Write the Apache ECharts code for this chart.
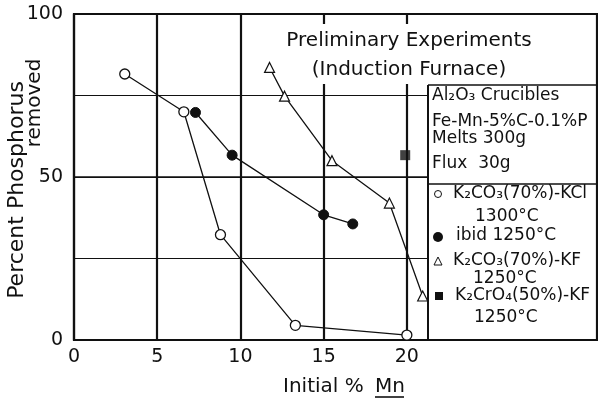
<!DOCTYPE html>
<html>
<head>
<meta charset="utf-8">
<script src="https://cdn.jsdelivr.net/npm/echarts@6/dist/echarts.min.js"></script>
<style>
  html, body { margin: 0; padding: 0; background: #fff; }
  #chart { width: 598px; height: 400px; }
</style>
</head>
<body>
<div id="chart"></div>
<script>
// 数据
var kclOpen = [[3.05, 81.6], [6.6, 70], [8.8, 32.3], [13.3, 4.5], [20.0, 1.5]];   // K2CO3(70%)-KCl 1300°C
var ibidFilled = [[7.3, 69.8], [9.5, 56.7], [15.0, 38.4], [16.75, 35.6]];         // ibid 1250°C
var kfTriangle = [[11.75, 83.6], [12.65, 74.8], [15.5, 55], [18.95, 42], [20.95, 13.5]]; // K2CO3(70%)-KF 1250°C
var cro4Square = [[19.9, 56.7]];                                                   // K2CrO4(50%)-KF 1250°C
var xTicks = [0, 5, 10, 15, 20];
var yTicks = [0, 50, 100];

var FONT = "DejaVu Sans";
var INK = "#111";

var chart = echarts.init(document.getElementById("chart"));

// plain text line, x = left edge, y = vertical centre
function txt(x, y, text, size) {
  return {
    type: "text",
    x: x,
    y: y,
    style: { text: text, fontFamily: FONT, fontSize: size || 17, fill: INK, verticalAlign: "middle" }
  };
}

var option = {
  backgroundColor: "#fff",
  animation: false,
  // title sits on a white patch, grid lines stop under it
  title: {
    text: "Preliminary Experiments\n(Induction Furnace)",
    left: 405,
    top: 24,
    textAlign: "center",
    padding: [2, 4, 0, 4],
    backgroundColor: "#fff",
    textStyle: { fontFamily: FONT, fontSize: 20, fontWeight: "normal", color: INK, lineHeight: 29 }
  },
  grid: { left: 74, right: 170, top: 14, bottom: 60 },
  xAxis: {
    type: "value",
    min: 0,
    max: 21.27,
    interval: 5,
    axisLine: { show: false },
    axisTick: { show: false },
    axisLabel: {
      color: INK,
      fontFamily: FONT,
      fontSize: 19,
      margin: 8,
      formatter: function (v) { return xTicks.indexOf(v) >= 0 ? String(v) : ""; }
    },
    splitLine: {
      show: true,
      // last tick sits on the legend box edge: hide it
      lineStyle: { color: [INK, INK, INK, INK, INK, "rgba(0,0,0,0)"], width: 2.2 }
    }
  },
  yAxis: [
    {
      type: "value",
      min: 0,
      max: 100,
      interval: 25,
      axisLine: { show: false },
      axisTick: { show: false },
      axisLabel: {
        color: INK,
        fontFamily: FONT,
        fontSize: 19,
        margin: 11,
        formatter: function (v) { return yTicks.indexOf(v) >= 0 ? String(v) : ""; }
      },
      splitLine: { show: true, lineStyle: { color: INK, width: 1 } }
    },
    {
      type: "value",
      min: 0,
      max: 100,
      interval: 50,
      position: "left",
      axisLine: { show: false },
      axisTick: { show: false },
      axisLabel: { show: false },
      splitLine: { show: true, lineStyle: { color: INK, width: 1.6 } }
    }
  ],
  series: [
    {
      name: "K2CO3(70%)-KCl 1300°C",
      type: "line",
      data: kclOpen,
      symbol: "circle",
      symbolSize: 10,
      lineStyle: { color: INK, width: 1.3 },
      itemStyle: { color: "#fff", borderColor: INK, borderWidth: 1.3 },
      z: 7
    },
    {
      name: "ibid 1250°C",
      type: "line",
      data: ibidFilled,
      symbol: "circle",
      symbolSize: 10,
      lineStyle: { color: INK, width: 1.3 },
      itemStyle: { color: INK, borderColor: INK, borderWidth: 1 },
      z: 7
    },
    {
      name: "K2CO3(70%)-KF 1250°C",
      type: "line",
      data: kfTriangle,
      symbol: "triangle",
      symbolSize: 10,
      lineStyle: { color: INK, width: 1.3 },
      itemStyle: { color: "#fff", borderColor: INK, borderWidth: 1.2 },
      z: 7
    },
    {
      name: "K2CrO4(50%)-KF 1250°C",
      type: "scatter",
      data: cro4Square,
      symbol: "rect",
      symbolSize: 10,
      itemStyle: { color: INK },
      z: 7
    }
  ],
  graphic: [
    // outer frame
    { type: "rect", shape: { x: 74, y: 14, width: 523, height: 326 }, style: { fill: "none", stroke: INK, lineWidth: 2.2 } },
    // legend box edges
    { type: "line", shape: { x1: 428, y1: 85, x2: 428, y2: 340 }, style: { stroke: INK, lineWidth: 2 } },
    { type: "line", shape: { x1: 428, y1: 85, x2: 597, y2: 85 }, style: { stroke: INK, lineWidth: 1.6 } },
    { type: "line", shape: { x1: 428, y1: 184, x2: 597, y2: 184 }, style: { stroke: INK, lineWidth: 1.6 } },
    // conditions
    txt(432, 96, "Al₂O₃ Crucibles"),
    txt(432, 122, "Fe-Mn-5%C-0.1%P"),
    txt(432, 139, "Melts 300g"),
    txt(432, 164, "Flux  30g"),
    // legend entries
    { type: "circle", shape: { cx: 438, cy: 194, r: 3.5 }, style: { fill: "#fff", stroke: INK, lineWidth: 1 } },
    txt(453, 194, "K₂CO₃(70%)-KCl"),
    txt(475, 217, "1300°C"),
    { type: "circle", shape: { cx: 438, cy: 237, r: 5 }, style: { fill: INK } },
    txt(456, 236, "ibid 1250°C"),
    { type: "polygon", shape: { points: [[438, 257], [434, 265], [442, 265]] }, style: { fill: "#fff", stroke: INK, lineWidth: 1 } },
    txt(453, 261, "K₂CO₃(70%)-KF"),
    txt(473, 279, "1250°C"),
    { type: "rect", shape: { x: 435, y: 292, width: 8, height: 8 }, style: { fill: INK } },
    txt(455, 296, "K₂CrO₄(50%)-KF"),
    txt(474, 318, "1250°C"),
    // axis names
    txt(283, 387, "Initial %", 20),
    txt(375, 387, "Mn", 20),
    { type: "line", shape: { x1: 375, y1: 397, x2: 404, y2: 397 }, style: { stroke: INK, lineWidth: 1.6 } },
    {
      type: "text", x: 17, y: 190, rotation: Math.PI / 2,
      style: { text: "Percent Phosphorus", fontFamily: FONT, fontSize: 22, fill: INK, align: "center", verticalAlign: "middle" }
    },
    {
      type: "text", x: 35, y: 103, rotation: Math.PI / 2,
      style: { text: "removed", fontFamily: FONT, fontSize: 20, fill: INK, align: "center", verticalAlign: "middle" }
    }
  ]
};

chart.setOption(option);
</script>
</body>
</html>
